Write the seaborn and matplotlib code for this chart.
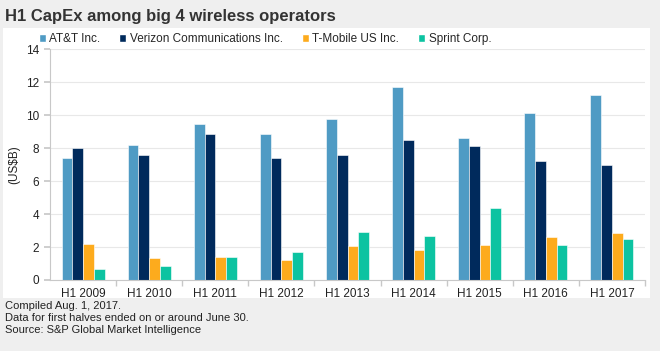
import matplotlib
matplotlib.use('Agg')
import matplotlib.pyplot as plt
from matplotlib.patches import Rectangle
import pandas as pd
import seaborn as sns

# values (US$B)
periods = ["H1 2009", "H1 2010", "H1 2011", "H1 2012", "H1 2013",
           "H1 2014", "H1 2015", "H1 2016", "H1 2017"]
companies = ["AT&T Inc.", "Verizon Communications Inc.", "T-Mobile US Inc.", "Sprint Corp."]
att = [7.4, 8.2, 9.45, 8.85, 9.77, 11.73, 8.64, 10.11, 11.2]
verizon = [8.0, 7.58, 8.88, 7.38, 7.58, 8.5, 8.13, 7.24, 6.98]
tmobile = [2.18, 1.32, 1.4, 1.23, 2.08, 1.82, 2.12, 2.63, 2.83]
sprint = [0.67, 0.87, 1.38, 1.68, 2.89, 2.69, 4.35, 2.12, 2.49]
colors = ["#4f9bc4", "#002a5c", "#fdab1d", "#0cc3a1"]

rows = []
for name, vals in zip(companies, [att, verizon, tmobile, sprint]):
    for p, v in zip(periods, vals):
        rows.append({"period": p, "company": name, "capex": v})
df = pd.DataFrame(rows)

sns.set_theme(style="white")
plt.rcParams['font.family'] = ['Liberation Sans', 'DejaVu Sans']

fig = plt.figure(figsize=(6.6, 3.51), dpi=100)
fig.patch.set_facecolor("#efefef")
# white chart panel, behind the axes
fig.patches.append(Rectangle((3 / 660, 1 - 298 / 351), 647 / 660, 270 / 351,
                             transform=fig.transFigure, facecolor="white",
                             edgecolor="none", zorder=-5))

ax = fig.add_axes([50 / 660, 1 - 280 / 351, 595 / 660, 230.7 / 351])
ax.set_facecolor("white")
sns.barplot(data=df, x="period", y="capex", hue="company", order=periods,
            hue_order=companies, palette=colors, width=0.65, ax=ax,
            edgecolor="white", linewidth=0.4, saturation=1)

ax.set_ylim(0, 14)
ax.set_yticks(range(0, 15, 2))
ax.set_xlim(-0.5, len(periods) - 0.5)
ax.yaxis.grid(True, color="#e8e8e8", linewidth=0.8)
ax.set_axisbelow(True)
for s in ["top", "right"]:
    ax.spines[s].set_visible(False)
for s in ["left", "bottom"]:
    ax.spines[s].set_color("#c8c8c8")
    ax.spines[s].set_linewidth(0.8)

ax.tick_params(axis="y", length=4, color="#c8c8c8", labelsize=8.5, left=True, pad=4,
               labelcolor="#222222")
ax.tick_params(axis="x", length=0, labelsize=8.5, pad=6, labelcolor="#222222")
ax.set_xticks([i + 0.5 for i in range(len(periods))], minor=True)
ax.tick_params(axis="x", which="minor", length=4, color="#c8c8c8", bottom=True)
ax.set_xlabel("")
ax.set_ylabel("(US$B)", fontsize=8.5, labelpad=4, color="#222222")

ax.get_legend().remove()
handles = [Rectangle((0, 0), 1, 1, facecolor=c) for c in colors]
fig.legend(handles, companies, loc="center", bbox_to_anchor=(265 / 660, 1 - 39 / 351),
           ncol=4, frameon=False, fontsize=8.5, handlelength=0.6, handleheight=0.6,
           handletextpad=0.3, columnspacing=1.6)

fig.text(5 / 660, 1 - 16 / 351, "H1 CapEx among big 4 wireless operators",
         fontsize=12, fontweight="bold", color="#333333", va="center")
fig.text(5 / 660, 1 - 318 / 351,
         "Compiled Aug. 1, 2017.\nData for first halves ended on or around June 30.\n"
         "Source: S&P Global Market Intelligence",
         fontsize=8, color="#222222", va="center", linespacing=1.2)

fig.savefig("out.png", dpi=100, facecolor=fig.get_facecolor())
